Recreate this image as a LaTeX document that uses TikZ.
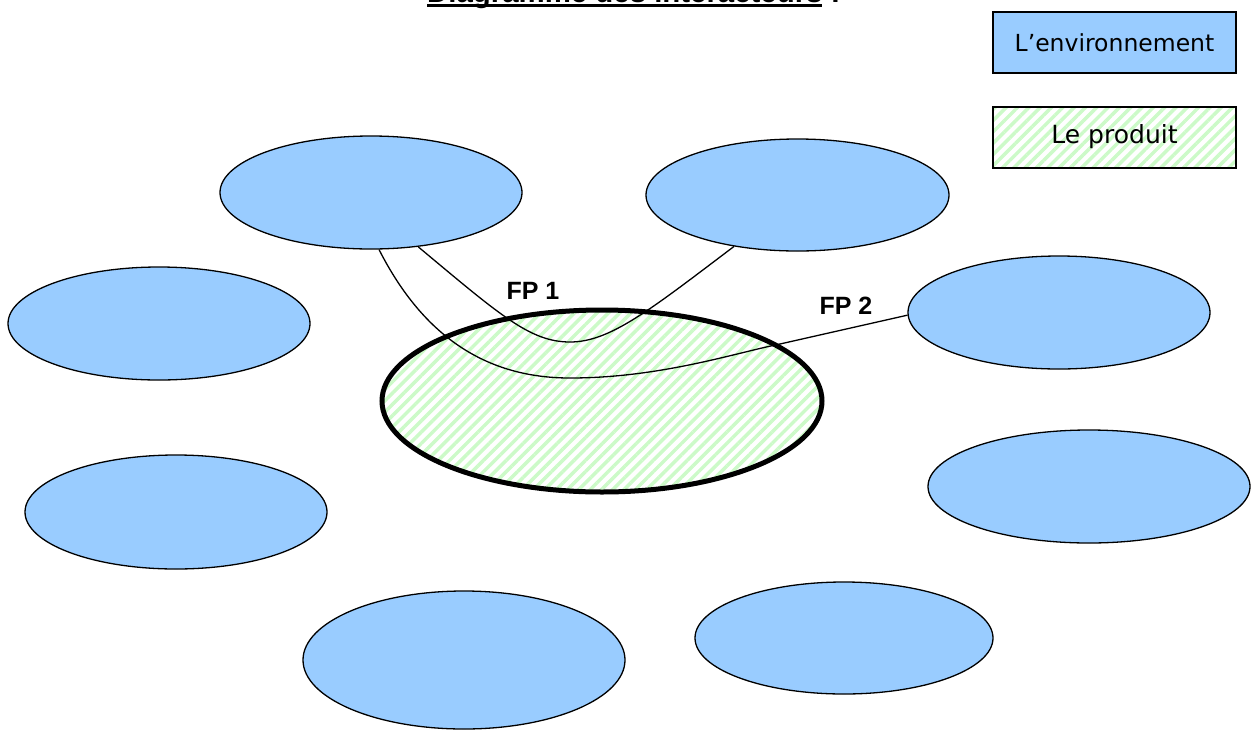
\documentclass[tikz,border=0pt]{standalone}
\usepackage{fontspec}
\setmainfont{Liberation Sans}
\newfontfamily\legendfont{DejaVu Sans}
\usetikzlibrary{shapes.geometric,patterns.meta}
\definecolor{envblue}{RGB}{153,204,255}
\definecolor{hatchgreen}{RGB}{204,250,200}
\tikzset{
  env/.style={ellipse, draw=black, line width=1.3pt, fill=envblue, inner sep=0pt},
  hatch/.style={pattern={Lines[angle=45,distance=8pt,line width=3.5pt]}, pattern color=hatchgreen},
  prod/.style={ellipse, draw=black, line width=5pt, inner sep=0pt, hatch},
  legbox/.style={rectangle, draw=black, line width=2pt, inner sep=0pt,
    minimum width=243pt, minimum height=61pt, font=\legendfont\fontsize{23.5}{28}\selectfont},
  link/.style={draw=black, line width=1.3pt},
  fplabel/.style={font=\fontsize{25}{30}\selectfont\bfseries, inner sep=0pt}
}
\begin{document}
\begin{tikzpicture}[x=1pt,y=-1pt]
\useasboundingbox (0,0) rectangle (1254,729);
% title (mostly cut off at the top, as in the reference)
\node[anchor=base west, inner sep=0pt, font=\fontsize{29.4}{30}\selectfont\bfseries] (title) at (427,2) {Diagramme des interacteurs :};
\draw[line width=3pt] (title.base west) ++(0,3.5) -- ++(395,0);
% legend
\node[legbox, fill=envblue] (legenv) at (1114.5,42.5) {L’environnement};
\node[legbox, hatch] (legprod) at (1114.5,137) {};
\node[legbox, draw=none, font=\legendfont\fontsize{25}{28}\selectfont] (legprodtxt) at (1114.5,137) {Le produit};
% environment ellipses
\node[env, minimum width=302pt, minimum height=113pt] (e1) at (371,192.5) {};
\node[env, minimum width=303pt, minimum height=112pt] (e2) at (797.5,195) {};
\node[env, minimum width=302pt, minimum height=113pt] (e3) at (1059,312.5) {};
\node[env, minimum width=302pt, minimum height=113pt] (e4) at (159,323.5) {};
\node[env, minimum width=302pt, minimum height=114pt] (e5) at (176,512) {};
\node[env, minimum width=322pt, minimum height=113pt] (e6) at (1089,486.5) {};
\node[env, minimum width=322pt, minimum height=138pt] (e7) at (464,660) {};
\node[env, minimum width=298pt, minimum height=112pt] (e8) at (844,638) {};
% product
\node[prod, minimum width=440pt, minimum height=182pt] (p) at (602,401) {};
% functions
\draw[link] (e1.-49) .. controls (500,315) and (530,342) .. (570,342)
  .. controls (610,342) and (650,310) .. (e2.-141);
\draw[link] (e1.-82) .. controls (420,330) and (480,378) .. (570,378)
  .. controls (660,378) and (735,353) .. (780,344) -- (e3.181);
\node[fplabel] (fp1) at (533,291) {FP 1};
\node[fplabel] (fp2) at (846,306) {FP 2};
\end{tikzpicture}
\end{document}
